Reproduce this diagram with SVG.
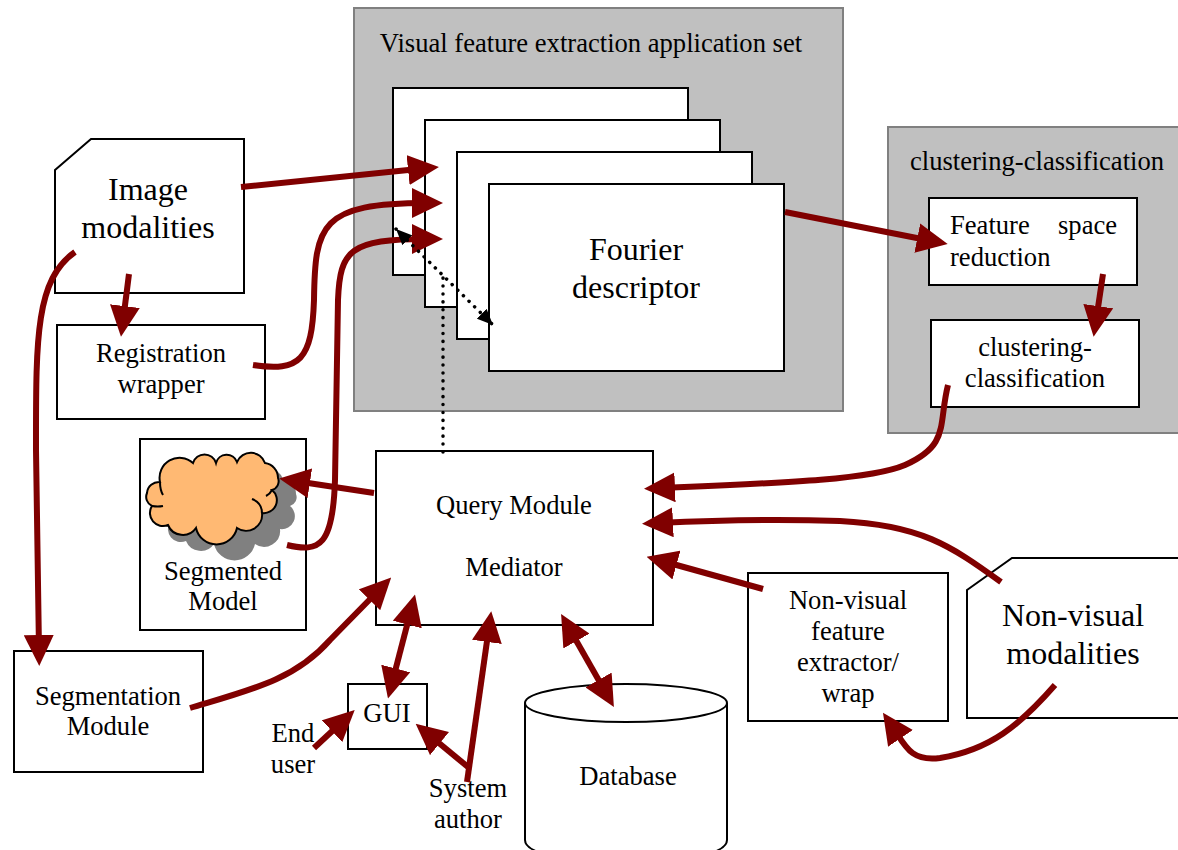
<svg xmlns="http://www.w3.org/2000/svg" width="1178" height="850" viewBox="0 0 1178 850">
<style>
text{font-family:"Liberation Serif","Times New Roman",serif;fill:#000;font-size:26.6px;text-anchor:middle}
.l{text-anchor:start}
.big{font-size:32px}
.box{fill:#fff;stroke:#000;stroke-width:2}
.panel{fill:#c0c0c0;stroke:#808080;stroke-width:2}
.arrow{fill:none;stroke:#800000;stroke-width:6}
.e{marker-end:url(#h)}
.b{marker-start:url(#hs);marker-end:url(#h)}
.dot{fill:none;stroke:#000;stroke-width:3.500;stroke-linecap:round;stroke-dasharray:0.100 7.800}
</style>
<defs>
<marker id="h" markerUnits="userSpaceOnUse" viewBox="0 0 31 30" markerWidth="31" markerHeight="30" refX="15" refY="15" orient="auto"><path d="M0 0L31 15L0 30Z" fill="#800000"/></marker>
<marker id="hs" markerUnits="userSpaceOnUse" viewBox="0 0 31 30" markerWidth="31" markerHeight="30" refX="16" refY="15" orient="auto"><path d="M31 0L0 15L31 30Z" fill="#800000"/></marker>
<marker id="k" markerUnits="userSpaceOnUse" viewBox="0 0 16 14" markerWidth="16" markerHeight="14" refX="16" refY="7" orient="auto"><path d="M0 0L16 7L0 14Z" fill="#000"/></marker>
<marker id="ks" markerUnits="userSpaceOnUse" viewBox="0 0 16 14" markerWidth="16" markerHeight="14" refX="0" refY="7" orient="auto"><path d="M16 0L0 7L16 14Z" fill="#000"/></marker>
<path id="cloud-shape" d="M160 482A20 20 0 0 1 193 463A12 12 0 0 1 216 463A11 11 0 0 1 237 462A15 15 0 0 1 265 463A15 15 0 0 1 278 478A9 9 0 0 1 272 490A13 13 0 0 1 262 513A16 16 0 0 1 237 528A21 21 0 0 1 196 528A16 16 0 0 1 168 525A13 13 0 0 1 152 506A10 10 0 0 1 147 493A12 12 0 0 1 160 482Z"/>
</defs>
<g id="visual-panel"><rect class="panel" x="354" y="8" width="489" height="403"/><text x="591" y="52">Visual feature extraction application set</text></g>
<g id="stack-1"><rect class="box" x="393" y="88" width="295" height="187"/></g>
<g id="stack-2"><rect class="box" x="425" y="120" width="295" height="187"/></g>
<g id="stack-3"><rect class="box" x="457" y="152" width="295" height="187"/></g>
<g id="fourier"><rect class="box" x="489" y="184" width="295" height="187"/><text class="big" x="636" y="260">Fourier</text><text class="big" x="636" y="298">descriptor</text></g>
<g id="clustering-panel"><rect class="panel" x="888" y="127" width="300" height="306"/><text x="1037" y="170">clustering-classification</text></g>
<g id="feature-reduction"><rect class="box" x="929" y="198" width="208" height="87"/><text class="l" x="950" y="234">Feature</text><text class="l" x="1058" y="234">space</text><text class="l" x="950" y="266">reduction</text></g>
<g id="clustering"><rect class="box" x="931" y="320" width="208" height="87"/><text x="1035" y="356">clustering-</text><text x="1035" y="387">classification</text></g>
<g id="image-modalities"><path class="box" d="M55 170L91 139H244V293H55Z"/><text class="big" x="148" y="200">Image</text><text class="big" x="148" y="238">modalities</text></g>
<g id="registration"><rect class="box" x="57" y="325" width="208" height="94"/><text x="161" y="362">Registration</text><text x="161" y="393">wrapper</text></g>
<g id="segmented-model"><rect class="box" x="140" y="439" width="166" height="191"/>
<use id="cloud-shadow" href="#cloud-shape" x="18" y="16" fill="#808080"/>
<use id="cloud" href="#cloud-shape" fill="#ffb973" stroke="#000" stroke-width="2"/>
<path fill="none" stroke="#000" stroke-width="2" d="M160 482Q160 490 163 495M152 506Q158 507 163 506M252 499Q262 503 262 513M272 490Q270 494 266 496"/>
<text x="223" y="580">Segmented</text><text x="223" y="610">Model</text></g>
<g id="query"><rect class="box" x="376" y="451" width="277" height="174"/><text x="514" y="514">Query Module</text><text x="514" y="576">Mediator</text></g>
<g id="segmentation"><rect class="box" x="14" y="651" width="189" height="121"/><text x="108" y="705">Segmentation</text><text x="108" y="735">Module</text></g>
<g id="gui"><rect class="box" x="348" y="684" width="79" height="65"/><text x="387" y="722">GUI</text></g>
<g id="end-user"><text x="293" y="742">End</text><text x="293" y="773">user</text></g>
<g id="system-author"><text x="468" y="797">System</text><text x="468" y="828">author</text></g>
<g id="database"><path class="box" d="M525 703V840Q525 860 626 860T727 840V703"/><ellipse class="box" cx="626" cy="703" rx="101" ry="19"/><text x="628" y="785">Database</text></g>
<g id="non-visual-extractor"><rect class="box" x="748" y="573" width="200" height="148"/><text x="848" y="609">Non-visual</text><text x="848" y="640">feature</text><text x="848" y="671">extractor/</text><text x="848" y="702">wrap</text></g>
<g id="non-visual-modalities"><path class="box" d="M967 590L1012 558H1190V718H967Z"/><text class="big" x="1073" y="626">Non-visual</text><text class="big" x="1073" y="664">modalities</text></g>
<g id="connectors">
<path class="arrow e" d="M241 187L423 168.500"/>
<path class="arrow e" d="M253 365C300 372 312 360 314 300C315 225 320 203 427 203"/>
<path class="arrow e" d="M287 545C320 553 333 545 335 480L338 300C340 250 350 239 427 239"/>
<path class="arrow e" d="M785 212L932 241"/>
<path class="arrow e" d="M1103 274L1096 321"/>
<path class="arrow e" d="M948 385C938 425 950 445 905 465C870 480 780 483 660 488"/>
<path class="arrow e" d="M1001 582C950 545 920 525 840 521C780 519 720 520 658 523"/>
<path class="arrow e" d="M763 589L662 561"/>
<path class="arrow e" d="M1055 685C1020 725 990 750 940 758C910 762 905 745 892 726"/>
<path class="arrow e" d="M374 493L295 481"/>
<path class="arrow e" d="M75 252C35 280 36 340 36 450L39 650"/>
<path class="arrow e" d="M129 274L123 321"/>
<path class="arrow e" d="M190 708C250 690 295 680 330 640L380 589"/>
<path class="arrow b" d="M411 610L392 683"/>
<path class="arrow e" d="M314 748L343 721"/>
<path class="arrow e" d="M468 767L428 734"/>
<path class="arrow e" d="M467 782L489 627"/>
<path class="arrow b" d="M569 628L606 693"/>
<path class="dot" d="M443 452V275"/>
<path class="dot" marker-start="url(#ks)" marker-end="url(#k)" d="M396 229L493 325"/>
</g>
</svg>
